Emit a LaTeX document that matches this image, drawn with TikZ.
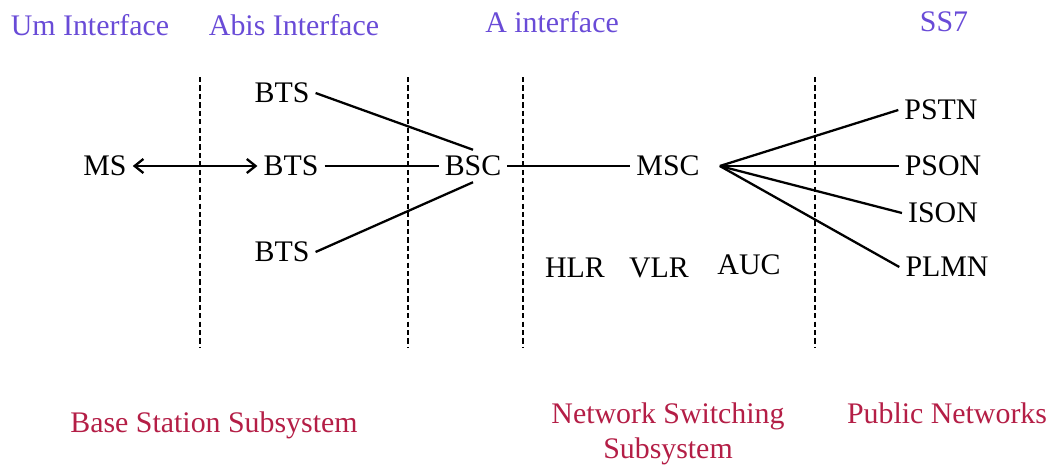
\documentclass[tikz,border=0pt]{standalone}
\usepackage{fontspec}
\setmainfont{Liberation Serif}
\usetikzlibrary{arrows.meta}
\definecolor{ifacecol}{RGB}{105,75,215}
\definecolor{subcol}{RGB}{180,30,70}

\begin{document}
\begin{tikzpicture}[
    elem/.style={font=\fontsize{17}{20}\selectfont},
    iface/.style={font=\fontsize{17}{20}\selectfont, text=ifacecol},
    subsys/.style={font=\fontsize{17}{20}\selectfont, text=subcol, align=center},
    link/.style={line width=1.3pt},
    border/.style={line width=1.1pt, dash pattern=on 3pt off 1.8pt}
    ]
        \useasboundingbox (0,0) rectangle (21.08,9.4);

        % Interfaces
        \node[iface] (um) at (1.80,8.90) {Um Interface};
        \node[iface] (abis) at (5.88,8.90) {Abis Interface};
        \node[iface] (aif) at (11.04,8.96) {A interface};
        \node[iface] (ss7) at (18.88,8.96) {SS7};

        % Borders
        \draw[border] (4.00,7.86) -- (4.00,2.44);
        \draw[border] (8.16,7.86) -- (8.16,2.44);
        \draw[border] (10.46,7.86) -- (10.46,2.44);
        \draw[border] (16.30,7.86) -- (16.30,2.44);

        % Base station subsystem
        \node[elem] (ms) at (2.10,6.08) {MS};
        \node[elem] (btsA) at (5.64,7.54) {BTS};
        \node[elem] (btsB) at (5.82,6.08) {BTS};
        \node[elem] (btsC) at (5.64,4.36) {BTS};
        \node[elem] (bsc) at (9.46,6.08) {BSC};

        % Network switching subsystem
        \node[elem] (msc) at (13.36,6.08) {MSC};
        \node[elem] (hlr) at (11.50,4.04) {HLR};
        \node[elem] (vlr) at (13.18,4.04) {VLR};
        \node[elem] (auc) at (14.98,4.10) {AUC};

        % Public networks
        \node[elem] (pstn) at (18.82,7.20) {PSTN};
        \node[elem] (pson) at (18.86,6.08) {PSON};
        \node[elem] (ison) at (18.86,5.14) {ISON};
        \node[elem] (plmn) at (18.94,4.06) {PLMN};

        % Links
        \draw[link, {Straight Barb[length=5pt,width=8pt]}-{Straight Barb[length=5pt,width=8pt]}] (ms) -- (btsB);
        \draw[link] (btsA.east) -- (bsc.north);
        \draw[link] (btsB) -- (bsc);
        \draw[link] (btsC.east) -- (bsc.south);
        \draw[link] (bsc) -- (msc);
        \draw[link] ([xshift=8pt]msc.east) -- (pstn.west);
        \draw[link] ([xshift=8pt]msc.east) -- (pson.west);
        \draw[link] ([xshift=8pt]msc.east) -- (ison.west);
        \draw[link] ([xshift=8pt]msc.east) -- (plmn.west);

        % Subsystems
        \node[subsys] (bss) at (4.28,0.90) {Base Station Subsystem};
        \node[subsys] (nss) at (13.36,0.72) {Network Switching\\Subsystem};
        \node[subsys] (pub) at (18.94,1.14) {Public Networks};
    \end{tikzpicture}
\end{document}
